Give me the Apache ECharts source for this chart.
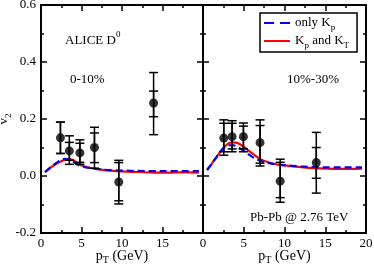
<!DOCTYPE html>
<html><head><meta charset="utf-8">
<script src="https://cdn.jsdelivr.net/npm/echarts@6/dist/echarts.min.js"></script>
<style>html,body{margin:0;padding:0;background:#fff}#c{width:374px;height:266px}</style>
</head><body><div id="c"></div>
<script>
// ---- data ----
const xTicks = [0, 5, 10, 15, 20];
const yTicks = [-0.2, 0.0, 0.2, 0.4, 0.6];

// 0-10% ALICE D0 data
const leftPt     = [2.4, 3.5, 4.8, 6.6, 9.6, 13.9];
const leftV2     = [0.134, 0.088, 0.081, 0.100, -0.021, 0.256];
const leftTotLo  = [0.079, 0.041, 0.041, 0.027, -0.098, 0.145];
const leftTotHi  = [0.189, 0.141, 0.127, 0.171, 0.055, 0.363];
const leftStatLo = [0.079, 0.055, 0.048, 0.047, -0.087, 0.208];
const leftStatHi = [0.189, 0.118, 0.115, 0.151, 0.047, 0.298];

// 10%-30% ALICE D0 data
const rightPt     = [2.55, 3.57, 4.96, 7.0, 9.47, 13.9];
const rightV2     = [0.133, 0.138, 0.138, 0.117, -0.018, 0.047];
const rightTotLo  = [0.073, 0.085, 0.085, 0.035, -0.092, -0.060];
const rightTotHi  = [0.197, 0.194, 0.186, 0.197, 0.059, 0.153];
const rightStatLo = [0.085, 0.095, 0.095, 0.045, -0.076, -0.008];
const rightStatHi = [0.185, 0.185, 0.175, 0.177, 0.048, 0.100];

// model curves
const curvePt     = [0.5, 1, 1.5, 2, 2.5, 3, 3.5, 4, 4.5, 5, 6, 7, 8, 9, 10, 12, 14, 16, 18, 19.5];
const leftOnlyKp  = [0.014, 0.026, 0.038, 0.048, 0.056, 0.060, 0.058, 0.050, 0.040, 0.034, 0.028, 0.025, 0.022, 0.020, 0.019, 0.018, 0.017, 0.017, 0.017, 0.017];
const leftKpKT    = [0.014, 0.025, 0.036, 0.045, 0.052, 0.057, 0.059, 0.055, 0.045, 0.037, 0.029, 0.024, 0.020, 0.018, 0.016, 0.014, 0.012, 0.012, 0.013, 0.012];
const rightOnlyKp = [0.021, 0.040, 0.060, 0.080, 0.097, 0.106, 0.108, 0.106, 0.098, 0.088, 0.068, 0.054, 0.046, 0.041, 0.038, 0.034, 0.031, 0.030, 0.030, 0.030];
const rightKpKT   = [0.021, 0.040, 0.060, 0.080, 0.098, 0.112, 0.118, 0.117, 0.112, 0.102, 0.080, 0.060, 0.048, 0.041, 0.037, 0.031, 0.027, 0.025, 0.025, 0.026];

const nameOnly = 'only Kp';
const nameBoth = 'Kp and KT';

// ---- helpers ----
const FONT = 'Liberation Serif';
const zip = (a, b) => a.map((v, i) => [v, b[i]]);
const zip3 = (a, b, c) => a.map((v, i) => [v, b[i], c[i]]);

function errRender(capHalf) {
  return function (params, api) {
    const x = api.value(0), lo = api.value(1), hi = api.value(2);
    const p1 = api.coord([x, lo]), p2 = api.coord([x, hi]);
    const st = { stroke: '#000', lineWidth: 1.5 };
    return { type: 'group', children: [
      { type: 'line', shape: { x1: p1[0], y1: p1[1], x2: p2[0], y2: p2[1] }, style: st },
      { type: 'line', shape: { x1: p1[0] - capHalf, y1: p1[1], x2: p1[0] + capHalf, y2: p1[1] }, style: st },
      { type: 'line', shape: { x1: p2[0] - capHalf, y1: p2[1], x2: p2[0] + capHalf, y2: p2[1] }, style: st }
    ]};
  };
}

const subRich = {
  n: { fontFamily: FONT, fontSize: 13, color: '#000', verticalAlign: 'top', lineHeight: 14 },
  s: { fontFamily: FONT, fontSize: 9, color: '#000', verticalAlign: 'top', lineHeight: 10, padding: [7, 0, 0, 0] }
};
const nameRich = {
  n: { fontFamily: FONT, fontSize: 14, color: '#000', verticalAlign: 'top', lineHeight: 15 },
  s: { fontFamily: FONT, fontSize: 10, color: '#000', verticalAlign: 'top', lineHeight: 10, padding: [6, 0, 0, 0] }
};

const axLine = { show: true, onZero: false, lineStyle: { color: '#000', width: 2 } };
const axTick = { show: true, inside: true, length: 6, lineStyle: { color: '#000', width: 1.5 } };
const axMinor = { show: true, splitNumber: 2, length: 3, lineStyle: { color: '#000', width: 1.5 } };

function xAxisPair(g, hideLast) {
  const base = { gridIndex: g, type: 'value', min: xTicks[0], max: xTicks[xTicks.length - 1], interval: xTicks[1] - xTicks[0],
    axisLine: axLine, axisTick: axTick, minorTick: axMinor, splitLine: { show: false } };
  return [
    Object.assign({}, base, { position: 'bottom',
      axisLabel: { color: '#000', fontFamily: FONT, fontSize: 13, margin: 4,
        formatter: v => (hideLast && v === 20) ? '' : String(v) },
      name: '{n|p}{s|T}{n| (GeV)}', nameLocation: 'middle', nameGap: 16, nameMoveOverlap: false,
      nameTextStyle: { rich: nameRich } }),
    Object.assign({}, base, { position: 'top', offset: 0, axisLabel: { show: false } })
  ];
}
function yAxisPair(g, showLabels) {
  const base = { gridIndex: g, type: 'value', min: yTicks[0], max: yTicks[yTicks.length - 1], interval: 0.2,
    axisLine: axLine, axisTick: axTick, minorTick: axMinor, splitLine: { show: false } };
  const left = Object.assign({}, base, { position: 'left',
    axisLabel: { show: showLabels, color: '#000', fontFamily: FONT, fontSize: 13, margin: 5, formatter: v => v.toFixed(1) } });
  if (showLabels) {
    left.name = '{n|v}{s|2}';
    left.nameLocation = 'middle';
    left.nameRotate = 90;
    left.nameGap = 30;
    left.nameMoveOverlap = false;
    left.nameTextStyle = { rich: subRich };
  }
  return [left, Object.assign({}, base, { position: 'right', offset: 0, axisLabel: { show: false } })];
}

function panelSeries(g, pt, v2, totLo, totHi, stLo, stHi, only, both) {
  const xi = g * 2, yi = g * 2;
  return [
    { type: 'line', name: nameBoth, xAxisIndex: xi, yAxisIndex: yi, data: zip(curvePt, both), smooth: 0.4,
      symbol: 'none', lineStyle: { color: '#ff0000', width: 2.2 }, itemStyle: { color: '#ff0000' }, z: 3 },
    { type: 'line', name: nameOnly, xAxisIndex: xi, yAxisIndex: yi, data: zip(curvePt, only), smooth: 0.4,
      symbol: 'none', lineStyle: { color: '#0000ff', width: 2.2, type: [7, 4] }, itemStyle: { color: '#0000ff' }, z: 4 },
    { type: 'custom', xAxisIndex: xi, yAxisIndex: yi, data: zip3(pt, totLo, totHi), encode: { x: 0, y: [1, 2] },
      renderItem: errRender(4.5), z: 5, silent: true },
    { type: 'custom', xAxisIndex: xi, yAxisIndex: yi, data: zip3(pt, stLo, stHi), encode: { x: 0, y: [1, 2] },
      renderItem: errRender(4.5), z: 5, silent: true },
    { type: 'scatter', xAxisIndex: xi, yAxisIndex: yi, data: zip(pt, v2), symbolSize: 9,
      itemStyle: { color: '#000' }, z: 6 }
  ];
}

const xa = xAxisPair(0, true).concat(xAxisPair(1, false));
const ya = yAxisPair(0, true).concat(yAxisPair(1, false));
const series = []
  .concat(panelSeries(0, leftPt, leftV2, leftTotLo, leftTotHi, leftStatLo, leftStatHi, leftOnlyKp, leftKpKT))
  .concat(panelSeries(1, rightPt, rightV2, rightTotLo, rightTotHi, rightStatLo, rightStatHi, rightOnlyKp, rightKpKT));

const supRich = {
  n: { fontFamily: FONT, fontSize: 13, color: '#000', verticalAlign: 'top', lineHeight: 14, padding: [4, 0, 0, 0] },
  u: { fontFamily: FONT, fontSize: 9, color: '#000', verticalAlign: 'top', lineHeight: 10 }
};

const gridBase = { top: 5, height: 228, outerBoundsMode: 'none', containLabel: false,
  show: true, borderColor: '#000', borderWidth: 2, backgroundColor: 'rgba(0,0,0,0)' };

const chart = echarts.init(document.getElementById('c'), null, { renderer: 'canvas' });
chart.setOption({
  animation: false,
  backgroundColor: '#fff',
  grid: [
    Object.assign({ left: 41, width: 162 }, gridBase),
    Object.assign({ left: 203, width: 163 }, gridBase)
  ],
  xAxis: xa,
  yAxis: ya,
  legend: {
    data: [
      { name: nameOnly, icon: 'path://M0,0H10V2H0Z M16,0H26V2H16Z' },
      { name: nameBoth, icon: 'path://M0,0H26V2H0Z' }
    ],
    orient: 'vertical', left: 260, top: 13,
    backgroundColor: '#fff', borderColor: '#000', borderWidth: 1.5, borderRadius: 0,
    padding: [3, 8, 2, 4], itemGap: 2, itemWidth: 26, itemHeight: 2.2,
    textStyle: { rich: subRich },
    formatter: n => n === nameOnly ? '{n|only K}{s|p}' : '{n|K}{s|p}{n| and K}{s|T}'
  },
  graphic: [
    { type: 'text', left: 65, top: 30, z: 20, style: { text: '{n|ALICE D}{u|0}', rich: supRich } },
    { type: 'text', left: 70, top: 73, z: 20, style: { text: '0-10%', fill: '#000', font: '13px ' + FONT } },
    { type: 'text', left: 287, top: 73, z: 20, style: { text: '10%-30%', fill: '#000', font: '13px ' + FONT } },
    { type: 'text', left: 250, top: 211, z: 20, style: { text: 'Pb-Pb @ 2.76 TeV', fill: '#000', font: '13px ' + FONT } }
  ],
  series: series
});
</script></body></html>
